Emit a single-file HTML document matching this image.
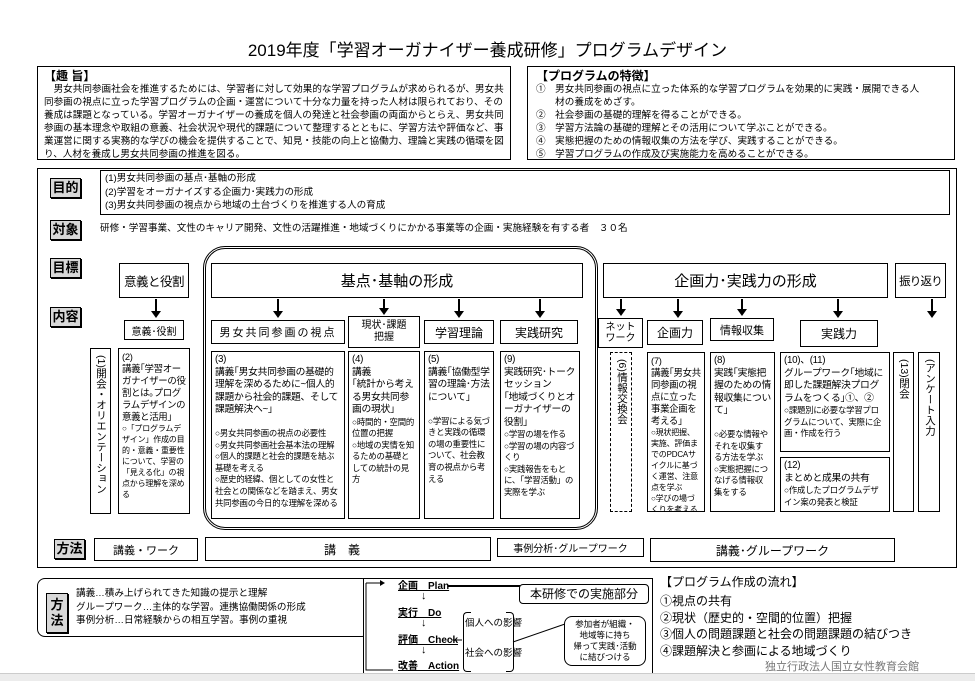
<!DOCTYPE html>
<html><head><meta charset="utf-8"><style>
*{margin:0;padding:0;box-sizing:border-box}
body{width:975px;height:681px;background:#fff;position:relative;overflow:hidden;font-family:"Liberation Sans","Noto Sans CJK JP",sans-serif;color:#000}
.a{position:absolute}
.b{position:absolute;border:1px solid #000;background:#fff}
.t{font-size:9.6px;line-height:13px}
.lab{position:absolute;border:1px solid #000;background:#d8d8d8;font-weight:bold;font-size:13px;text-align:center;line-height:18px;box-shadow:1px 1px 0 #000}
.c{display:flex;align-items:center;justify-content:center;text-align:center}
.v{writing-mode:vertical-rl;font-size:10.5px;line-height:18px;padding-top:6px;text-align:left}
.arr{position:absolute;width:2px;background:#000}
.arr:after{content:"";position:absolute;left:-4px;bottom:-6px;border-left:5px solid transparent;border-right:5px solid transparent;border-top:7px solid #000}
.p{font-size:8.4px;line-height:11.6px;padding:2px 3px;overflow:hidden;letter-spacing:-0.2px}
.p span{font-size:9.8px;line-height:12.5px;letter-spacing:-0.3px}
.s{font-size:8px;line-height:11px}
.s span{font-size:9.4px;line-height:12px}
</style></head><body>
<div class="a" style="left:0;top:36px;width:975px;text-align:center;font-size:17px">2019年度「学習オーガナイザー養成研修」プログラムデザイン</div>

<div class="b" style="left:37px;top:66px;width:474px;height:94px;padding:2px 6px">
<div style="font-weight:bold;font-size:12px;line-height:14px">【趣 旨】</div>
<div class="t">　男女共同参画社会を推進するためには、学習者に対して効果的な学習プログラムが求められるが、男女共同参画の視点に立った学習プログラムの企画・運営について十分な力量を持った人材は限られており、その養成は課題となっている。学習オーガナイザーの養成を個人の発達と社会参画の両面からとらえ、男女共同参画の基本理念や取組の意義、社会状況や現代的課題について整理するとともに、学習方法や評価など、事業運営に関する実務的な学びの機会を提供することで、知見・技能の向上と協働力、理論と実践の循環を図り、人材を養成し男女共同参画の推進を図る。</div></div>

<div class="b" style="left:527px;top:66px;width:428px;height:94px;padding:2px 8px">
<div style="font-weight:bold;font-size:12px;line-height:14px">【プログラムの特徴】</div>
<div class="t">①　男女共同参画の視点に立った体系的な学習プログラムを効果的に実践・展開できる人<br>　　材の養成をめざす。<br>②　社会参画の基礎的理解を得ることができる。<br>③　学習方法論の基礎的理解とその活用について学ぶことができる。<br>④　実態把握のための情報収集の方法を学び、実践することができる。<br>⑤　学習プログラムの作成及び実施能力を高めることができる。</div></div>

<div class="b" style="left:37px;top:168px;width:920px;height:400px"></div>

<div class="lab" style="left:50px;top:178px;width:31px;height:20px">目的</div>
<div class="lab" style="left:50px;top:220px;width:31px;height:20px">対象</div>
<div class="lab" style="left:50px;top:258px;width:31px;height:20px">目標</div>
<div class="lab" style="left:50px;top:307px;width:31px;height:20px">内容</div>
<div class="lab" style="left:54px;top:539px;width:31px;height:20px">方法</div>

<div class="b t" style="left:100px;top:170px;width:850px;height:45px;padding:1px 4px;line-height:13.5px">(1)男女共同参画の基点･基軸の形成<br>(2)学習をオーガナイズする企画力･実践力の形成<br>(3)男女共同参画の視点から地域の土台づくりを推進する人の育成</div>
<div class="a t" style="left:100px;top:222px">研修・学習事業、文性のキャリア開発、文性の活躍推進・地域づくりにかかる事業等の企画・実施経験を有する者　３０名</div>

<div class="a" style="left:203px;top:246px;width:395px;height:284px;border:3px double #000;border-radius:22px"></div>

<div class="b c" style="left:119px;top:263px;width:70px;height:35px;font-size:12.5px;letter-spacing:-0.5px">意義と役割</div>
<div class="b c" style="left:211px;top:263px;width:372px;height:35px;font-size:15px">基点･基軸の形成</div>
<div class="b c" style="left:603px;top:263px;width:285px;height:35px;font-size:15px">企画力･実践力の形成</div>
<div class="b c" style="left:895px;top:263px;width:51px;height:35px;font-size:11.5px;letter-spacing:-0.8px;white-space:nowrap">振り返り</div>

<div class="arr" style="left:155px;top:299px;height:13px"></div>
<div class="arr" style="left:277px;top:299px;height:13px"></div>
<div class="arr" style="left:383px;top:299px;height:10px"></div>
<div class="arr" style="left:458px;top:299px;height:13px"></div>
<div class="arr" style="left:539px;top:299px;height:13px"></div>
<div class="arr" style="left:620px;top:299px;height:11px"></div>
<div class="arr" style="left:677px;top:299px;height:13px"></div>
<div class="arr" style="left:741px;top:299px;height:11px"></div>
<div class="arr" style="left:837px;top:299px;height:13px"></div>
<div class="arr" style="left:931px;top:299px;height:13px"></div>

<div class="b c" style="left:124px;top:320px;width:60px;height:20px;font-size:10px">意義･役割</div>
<div class="b c" style="left:211px;top:320px;width:134px;height:24px;font-size:11px;letter-spacing:2px">男女共同参画の視点</div>
<div class="b c" style="left:348px;top:316px;width:72px;height:32px;font-size:10px;line-height:12px">現状･課題<br>把握</div>
<div class="b c" style="left:424px;top:320px;width:70px;height:24px;font-size:12px">学習理論</div>
<div class="b c" style="left:500px;top:320px;width:78px;height:24px;font-size:12px">実践研究</div>
<div class="b c" style="left:598px;top:318px;width:45px;height:30px;font-size:10px;line-height:11px">ネット<br>ワーク</div>
<div class="b c" style="left:647px;top:320px;width:56px;height:25px;font-size:12px">企画力</div>
<div class="b c" style="left:710px;top:318px;width:64px;height:23px;font-size:11px">情報収集</div>
<div class="b c" style="left:800px;top:320px;width:78px;height:27px;font-size:12px">実践力</div>

<div class="b v" style="left:90px;top:348px;width:21px;height:166px;padding-left:1px">(1)開会・オリエンテーション</div>
<div class="b p s" style="left:118px;top:348px;width:72px;height:166px"><span>(2)<br>講義｢学習オーガナイザーの役割とは｡プログラムデザインの意義と活用｣</span><br>○「プログラムデザイン」作成の目的・意義・重要性について、学習の「見える化」の視点から理解を深める</div>
<div class="b p" style="left:211px;top:351px;width:134px;height:168px"><span>(3)<br>講義｢男女共同参画の基礎的理解を深めるために~個人的課題から社会的課題、そして課題解決へ~｣</span><br><br>○男女共同参画の視点の必要性<br>○男女共同参画社会基本法の理解<br>○個人的課題と社会的課題を結ぶ基礎を考える<br>○歴史的経緯、個としての女性と社会との関係などを踏まえ、男女共同参画の今日的な理解を深める</div>
<div class="b p" style="left:348px;top:351px;width:72px;height:168px"><span>(4)<br>講義<br>｢統計から考える男女共同参画の現状｣</span><br>○時間的・空間的位置の把握<br>○地域の実情を知るための基礎としての統計の見方</div>
<div class="b p" style="left:424px;top:351px;width:70px;height:168px"><span>(5)<br>講義｢協働型学習の理論･方法について｣</span><br><br>○学習による気づきと実践の循環の場の重要性について、社会教育の視点から考える</div>
<div class="b p" style="left:500px;top:351px;width:80px;height:168px"><span>(9)<br>実践研究･トークセッション<br>｢地域づくりとオーガナイザーの役割｣</span><br>○学習の場を作る<br>○学習の場の内容づくり<br>○実践報告をもとに、「学習活動」の実際を学ぶ</div>
<div class="a v" style="left:610px;top:352px;width:22px;height:160px;border:1px dashed #000;padding-left:1px">(6)情報交換会</div>
<div class="b p s" style="left:647px;top:352px;width:58px;height:160px"><span>(7)<br>講義｢男女共同参画の視点に立った事業企画を考える｣</span><br>○現状把握、実施、評価までのPDCAサイクルに基づく運営、注意点を学ぶ<br>○学びの場づくりを考える</div>
<div class="b p" style="left:710px;top:352px;width:65px;height:160px"><span>(8)<br>実践｢実態把握のための情報収集について｣</span><br><br>○必要な情報やそれを収集する方法を学ぶ<br>○実態把握につなげる情報収集をする</div>
<div class="b p" style="left:780px;top:352px;width:110px;height:100px"><span>(10)、(11)<br>グループワーク｢地域に即した課題解決プログラムをつくる｣①、②</span><br>○課題別に必要な学習プログラムについて、実際に企画・作成を行う</div>
<div class="b p" style="left:780px;top:457px;width:110px;height:55px"><span>(12)<br>まとめと成果の共有</span><br>○作成したプログラムデザイン案の発表と検証</div>
<div class="b v" style="left:893px;top:352px;width:21px;height:160px;padding-left:1px">(13)閉会</div>
<div class="b v" style="left:918px;top:352px;width:22px;height:160px;padding-left:1px">(アンケート入力</div>

<div class="b c" style="left:94px;top:538px;width:104px;height:23px;font-size:11px">講義・ワーク</div>
<div class="b c" style="left:205px;top:537px;width:286px;height:24px;font-size:12px;letter-spacing:12px">講義</div>
<div class="b c" style="left:497px;top:538px;width:147px;height:19px;font-size:10px">事例分析･グループワーク</div>
<div class="b c" style="left:650px;top:538px;width:245px;height:24px;font-size:12px">講義･グループワーク</div>

<div class="a" style="left:37px;top:578px;width:333px;height:59px;border:1px solid #000;border-radius:8px"></div>
<div class="lab" style="left:46px;top:593px;width:22px;height:40px;font-size:13px;line-height:16px;padding-top:3px">方<br>法</div>
<div class="a t" style="left:76px;top:587px;line-height:13.5px">講義…積み上げられてきた知識の提示と理解<br>グループワーク…主体的な学習。連携協働関係の形成<br>事例分析…日常経験からの相互学習。事例の重視</div>

<div class="b" style="left:363px;top:578px;width:290px;height:98px"></div>
<svg class="a" style="left:363px;top:578px" width="290" height="98">
<polyline points="3,5 17,5" stroke="#000" fill="none"/><polygon points="17,2 22,5 17,8"/>
<polyline points="3,5 3,92 30,92" stroke="#000" fill="none"/>
<line x1="85" y1="8" x2="157" y2="8" stroke="#000" stroke-width="2"/>
<line x1="88" y1="62" x2="99" y2="62" stroke="#000"/>
<line x1="150" y1="64" x2="202" y2="46" stroke="#000"/>
</svg>
<div class="a" style="left:398px;top:577px;font-size:10px;font-weight:bold;text-decoration:underline">企画　Plan</div>
<div class="a" style="left:421px;top:590px;font-size:11px">↓</div>
<div class="a" style="left:398px;top:604px;font-size:10px;font-weight:bold;text-decoration:underline">実行　Do</div>
<div class="a" style="left:421px;top:617px;font-size:11px">↓</div>
<div class="a" style="left:398px;top:631px;font-size:10px;font-weight:bold;text-decoration:underline">評価　Check</div>
<div class="a" style="left:421px;top:644px;font-size:11px">↓</div>
<div class="a" style="left:398px;top:657px;font-size:10px;font-weight:bold;text-decoration:underline">改善　Action</div>
<div class="a" style="left:463px;top:612px;width:8px;height:60px;border-left:1px solid #000;border-top:1px solid #000;border-bottom:1px solid #000;border-radius:4px 0 0 4px"></div>
<div class="a" style="left:506px;top:612px;width:8px;height:60px;border-right:1px solid #000;border-top:1px solid #000;border-bottom:1px solid #000;border-radius:0 4px 4px 0"></div>
<div class="a" style="left:465px;top:615px;font-size:9.5px">個人への影響</div>
<div class="a" style="left:465px;top:645px;font-size:9.5px">社会への影響</div>
<div class="a" style="left:519px;top:584px;width:130px;height:20px;border:1px solid #000;border-radius:4px;font-size:12px;text-align:center;line-height:18px;background:#fff">本研修での実施部分</div>
<div class="a c" style="left:564px;top:616px;width:82px;height:50px;border:1px solid #000;border-radius:8px;font-size:8.5px;line-height:11px;background:#fff">参加者が組織・<br>地域等に持ち<br>帰って実践･活動<br>に結びつける</div>

<div class="a" style="left:660px;top:574px;font-size:12px;line-height:17px">【プログラム作成の流れ】</div>
<div class="a" style="left:660px;top:593px;font-size:12px;line-height:16.5px">①視点の共有<br>②現状（歴史的・空間的位置）把握<br>③個人の問題課題と社会の問題課題の結びつき<br>④課題解決と参画による地域づくり</div>
<div class="a" style="left:765px;top:658px;font-size:11px;color:#777">独立行政法人国立女性教育会館</div>
<div class="a" style="left:0;top:673px;width:975px;height:8px;background:#ececec;border-top:1px solid #ccc"></div>
</body></html>
